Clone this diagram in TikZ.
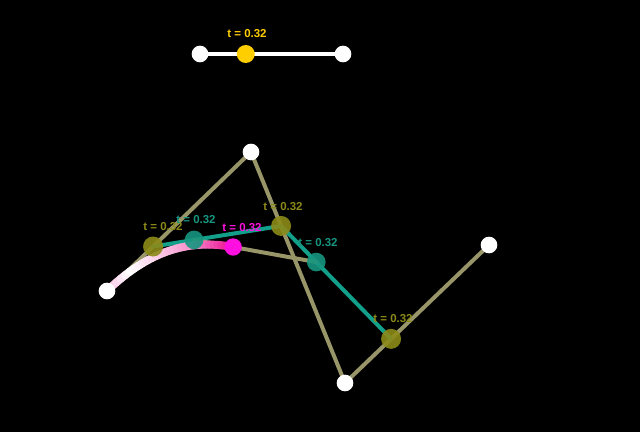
\documentclass[tikz,border=0pt]{standalone}
\usepackage{fontspec}
\setmainfont{Liberation Sans}
\usepackage{tikz}
\usetikzlibrary{calc}

\definecolor{oliveline}{RGB}{152,150,104}
\definecolor{olivedot}{RGB}{140,138,24}
\definecolor{greenline}{RGB}{18,160,138}
\definecolor{greendot}{RGB}{22,150,128}
\definecolor{pinkdot}{RGB}{255,16,224}
\definecolor{knob}{RGB}{255,206,0}

\tikzset{
  dot/.style={circle,fill=#1,inner sep=0pt,minimum size=0.6cm},
  tlabel/.style={text=#1,font=\bfseries\fontsize{9.8}{11}\selectfont,inner sep=0pt},
  declare function={
    bx(\s)=(1-\s)^3*107+3*(1-\s)^2*\s*251+3*(1-\s)*\s^2*345+\s^3*489;
    by(\s)=(1-\s)^3*291+3*(1-\s)^2*\s*152+3*(1-\s)*\s^2*383+\s^3*245;
  }
}

\begin{document}
\begin{tikzpicture}[x=0.03cm,y=-0.03cm,line cap=round]
  \fill[black] (0,0) rectangle (640,432);
  \useasboundingbox (0,0) rectangle (640,432);
  \def\tval{0.32}

  % slider
  \node[circle,fill=white,inner sep=0pt,minimum size=0.5cm] (sa) at (200,54) {};
  \node[circle,fill=white,inner sep=0pt,minimum size=0.5cm] (sb) at (343,54) {};
  \draw[white,line width=3.2pt] (sa) -- (sb);
  \node[circle,fill=knob,inner sep=0pt,minimum size=0.54cm] (knob) at ($(sa)!\tval!(sb)$) {};
  \node[tlabel=knob] (lknob) at (247,34) {t = 0.32};

  % control points
  \coordinate (p0) at (107,291);
  \coordinate (p1) at (251,152);
  \coordinate (p2) at (345,383);
  \coordinate (p3) at (489,245);
  \coordinate (a1) at ($(p0)!\tval!(p1)$);
  \coordinate (a2) at ($(p1)!\tval!(p2)$);
  \coordinate (a3) at ($(p2)!\tval!(p3)$);
  \coordinate (b1) at ($(a1)!\tval!(a2)$);
  \coordinate (b2) at ($(a2)!\tval!(a3)$);
  \coordinate (c1) at ($(b1)!\tval!(b2)$);

  \draw[oliveline,line width=3.4pt] (p0) -- (p1) -- (p2) -- (p3);
  \draw[greenline,line width=3.4pt] (a1) -- (a2) -- (a3);
  \draw[oliveline,line width=3.4pt] (b1) -- (b2);

  % traced part of the curve
  \foreach \k in {1,...,30}{
    \pgfmathsetmacro\sa{\tval*(\k-1)/30}
    \pgfmathsetmacro\sb{\tval*\k/30}
    \pgfmathsetmacro\mix{\k<6 ? 30-5*\k : (\k<20 ? 3*(\k-6) : 40+5*(\k-20))}
    \draw[magenta!\mix!white,line width=6.8pt] ({bx(\sa)},{by(\sa)}) -- ({bx(\sb)},{by(\sb)});
  }

  \node[dot=olivedot,opacity=0.9] (na1) at (a1) {};
  \node[dot=olivedot,opacity=0.9] (na2) at (a2) {};
  \node[dot=olivedot,opacity=0.9] (na3) at (a3) {};
  \node[dot=greendot,opacity=0.9,minimum size=0.56cm] (nb1) at (b1) {};
  \node[dot=greendot,opacity=0.9,minimum size=0.56cm] (nb2) at (b2) {};
  \node[dot=pinkdot,minimum size=0.52cm] (nc1) at (c1) {};
  \foreach \p in {p0,p1,p2,p3}{
    \node[circle,fill=white,inner sep=0pt,minimum size=0.5cm] (n\p) at (\p) {};
  }

  \node[tlabel=olivedot] (la1) at (163,227) {t = 0.32};
  \node[tlabel=olivedot] (la2) at (283,207) {t = 0.32};
  \node[tlabel=olivedot] (la3) at (393,319) {t = 0.32};
  \node[tlabel=greendot] (lb1) at (196,220) {t = 0.32};
  \node[tlabel=greendot] (lb2) at (318,243) {t = 0.32};
  \node[tlabel=pinkdot] (lc1) at (242,228) {t = 0.32};
\end{tikzpicture}
\end{document}
